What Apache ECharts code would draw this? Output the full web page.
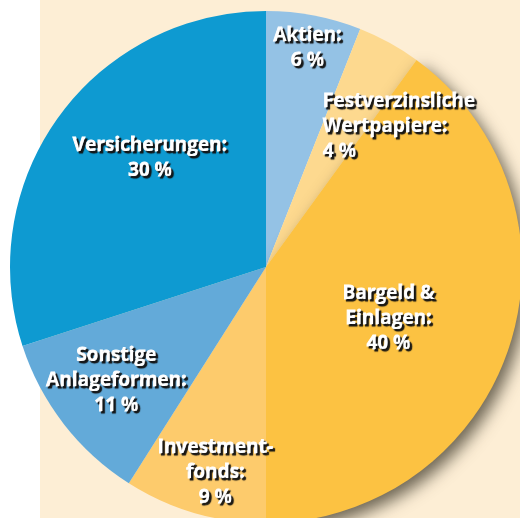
<!DOCTYPE html>
<html><head><meta charset="utf-8">
<script src="https://cdn.jsdelivr.net/npm/echarts@6/dist/echarts.min.js"></script>
<style>html,body{margin:0;padding:0;background:#fff}#c{width:520px;height:518px}</style>
</head><body><div id="c"></div>
<script>
var categories = ['Aktien', 'Festverzinsliche Wertpapiere', 'Bargeld & Einlagen', 'Investmentfonds', 'Sonstige Anlageformen', 'Versicherungen'];
var labelNames = ['Aktien:', 'Festverzinsliche\nWertpapiere:', 'Bargeld &\nEinlagen:', 'Investment-\nfonds:', 'Sonstige\nAnlageformen:', 'Versicherungen:'];
var values = [6, 4, 40, 9, 11, 30];

var colors = ['#94c2e5', '#fdd98f', '#fcc242', '#fdcb6c', '#63aad9', '#0e9ad1'];
var offsets = [[17, -90], [72, -26], [-2, 11], [-14, 80], [-46, 33], [-10, -32]];
var shadowOn = [false, false, true, false, false, false];

var txt = { color: '#fff', fontFamily: 'Open Sans', fontWeight: 'bold', fontSize: 19, lineHeight: 25,
  textBorderColor: '#fff', textBorderWidth: 0.9,
  textShadowColor: '#111', textShadowOffsetX: 2, textShadowOffsetY: 2, textShadowBlur: 1 };

var chart = echarts.init(document.getElementById('c'));
var data = categories.map(function (c, i) {
  var lines = (labelNames[i] + '\n' + values[i] + ' %').split('\n');
  var fmt = i === 1 ? lines.map(function (l) { return '{l|' + l + '}'; }).join('\n') : lines.join('\n');
  var st = { color: colors[i] };
  if (shadowOn[i]) {
    st.shadowBlur = 16; st.shadowOffsetX = 6; st.shadowOffsetY = 7; st.shadowColor = 'rgba(60,55,40,0.75)';
  }
  return {
    name: c, value: values[i],
    itemStyle: st,
    label: { offset: offsets[i], formatter: fmt }
  };
});
var richL = Object.assign({ width: 156, align: 'left' }, txt);
chart.setOption({
  backgroundColor: '#fdeed5',
  graphic: [{ type: 'rect', shape: { x: 0, y: 0, width: 40, height: 518 }, style: { fill: '#ffffff' }, z: -10, silent: true }],
  series: [
    {
      type: 'pie', name: 'Geldvermögen', center: [266, 267], radius: [0, 256], startAngle: 90, clockwise: true,
      animation: false,
      itemStyle: { borderWidth: 0 },
      emphasis: { disabled: true },
      label: Object.assign({ show: true, position: 'inside', rich: { l: richL } }, txt),
      labelLine: { show: false },
      data: data
    }
  ]
});
</script></body></html>
